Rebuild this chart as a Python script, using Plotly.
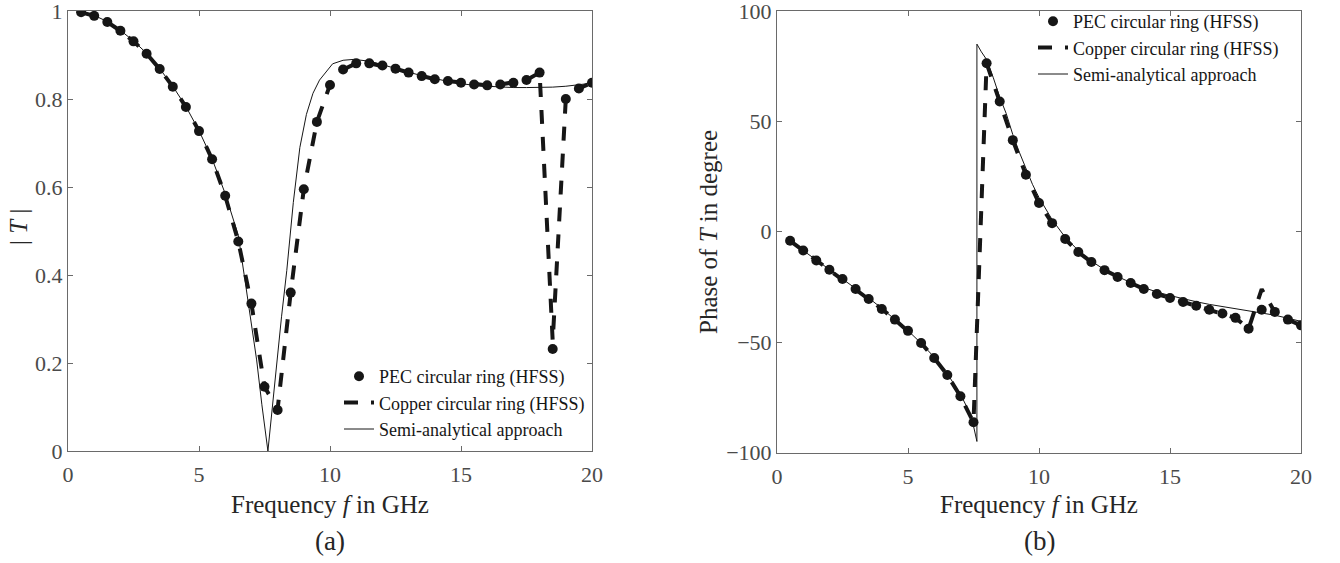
import plotly.graph_objects as go

W, H = 1340, 563

# ---------------- data ----------------
freq_hfss = [0.5, 1.0, 1.5, 2.0, 2.5, 3.0, 3.5, 4.0, 4.5, 5.0,
             5.5, 6.0, 6.5, 7.0, 7.5, 8.0, 8.5, 9.0, 9.5, 10.0,
             10.5, 11.0, 11.5, 12.0, 12.5, 13.0, 13.5, 14.0, 14.5, 15.0,
             15.5, 16.0, 16.5, 17.0, 17.5, 18.0, 18.5, 19.0, 19.5, 20.0]

mag_pec = [0.997, 0.989, 0.975, 0.955, 0.931, 0.903, 0.868, 0.828, 0.782, 0.727,
           0.663, 0.580, 0.476, 0.335, 0.146, 0.093, 0.360, 0.595, 0.748, 0.832,
           0.867, 0.881, 0.881, 0.876, 0.869, 0.860, 0.852, 0.845, 0.841, 0.837,
           0.833, 0.831, 0.833, 0.837, 0.843, 0.860, 0.232, 0.800, 0.824, 0.837]

mag_copper = [0.997, 0.989, 0.975, 0.955, 0.931, 0.903, 0.868, 0.828, 0.782, 0.727,
              0.663, 0.580, 0.476, 0.335, 0.146, 0.095, 0.360, 0.595, 0.748, 0.832,
              0.867, 0.881, 0.881, 0.876, 0.869, 0.860, 0.852, 0.845, 0.841, 0.837,
              0.833, 0.831, 0.833, 0.837, 0.843, 0.860, 0.250, 0.800, 0.824, 0.837]

phase_pec = [-4.1, -8.5, -13.0, -17.2, -21.4, -25.9, -30.5, -35.0, -39.8, -44.9,
             -50.4, -57.2, -64.9, -74.5, -86.3, 76.3, 59.0, 41.5, 25.8, 13.0,
             3.9, -3.3, -9.2, -13.7, -17.4, -20.5, -23.2, -25.9, -28.2, -30.0,
             -31.8, -33.5, -35.3, -37.0, -39.0, -43.9, -35.3, -36.3, -39.8, -42.4]

phase_copper = [-4.1, -8.5, -13.0, -17.2, -21.4, -25.9, -30.5, -35.0, -39.8, -44.9,
                -50.4, -57.2, -64.9, -74.5, -86.3, 76.3, 59.0, 41.5, 25.8, 13.0,
                3.9, -3.3, -9.2, -13.7, -17.4, -20.5, -23.2, -25.9, -28.2, -30.0,
                -31.8, -33.5, -35.3, -37.0, -39.0, -43.9, -26.0, -36.3, -39.8, -42.4]

freq_semi_mag = [0.4, 0.5, 1.0, 1.5, 2.0, 2.5, 3.0, 3.5, 4.0, 4.5,
                 5.0, 5.5, 6.0, 6.25, 6.5, 6.75, 7.0, 7.2, 7.4, 7.63,
                 7.8, 7.97, 8.15, 8.35, 8.6, 8.85, 9.1, 9.35, 9.6, 10.1,
                 10.5, 10.9, 11.5, 12.0, 12.5, 13.0, 13.5, 14.0, 14.5, 15.0,
                 15.5, 16.0, 16.5, 17.0, 17.5, 18.0, 18.5, 19.0, 19.5, 20.0]
mag_semi = [1.0, 0.998, 0.990, 0.976, 0.956, 0.932, 0.904, 0.869, 0.829, 0.783,
            0.728, 0.664, 0.585, 0.540, 0.490, 0.390, 0.290, 0.207, 0.105, 0.0,
            0.100, 0.207, 0.305, 0.410, 0.565, 0.690, 0.765, 0.813, 0.843, 0.880,
            0.888, 0.890, 0.886, 0.878, 0.869, 0.861, 0.853, 0.846, 0.840, 0.835,
            0.831, 0.829, 0.827, 0.826, 0.826, 0.826, 0.827, 0.829, 0.832, 0.836]

freq_semi_ph = [0.36, 0.5, 1.0, 1.5, 2.0, 2.5, 3.0, 3.5, 4.0, 4.5,
                5.0, 5.5, 6.0, 6.5, 7.0, 7.25, 7.5, 7.63, 7.63, 7.8,
                8.0, 8.25, 8.5, 8.75, 9.0, 9.25, 9.5, 9.75, 10.0, 10.5,
                11.0, 11.5, 12.0, 12.5, 13.0, 13.5, 14.0, 14.5, 15.0, 15.5,
                16.0, 16.5, 17.0, 17.5, 18.0, 18.5, 19.0, 19.5, 20.0]
phase_semi = [-3.0, -4.0, -8.5, -12.8, -16.8, -21.0, -25.5, -30.0, -34.7, -39.6,
              -44.8, -50.5, -56.8, -64.3, -73.5, -79.5, -88.0, -95.0, 85.0, 81.5,
              78.0, 70.0, 61.0, 53.5, 44.0, 36.0, 28.5, 21.5, 15.5, 5.5,
              -2.5, -8.5, -13.3, -17.2, -20.3, -23.0, -25.3, -27.3, -28.9, -30.4,
              -31.7, -32.9, -33.9, -34.8, -35.6, -36.6, -37.8, -39.2, -40.6]

x_ticks = [0, 5, 10, 15, 20]
mag_ticks = [0, 0.2, 0.4, 0.6, 0.8, 1]
mag_tick_text = ["0", "0.2", "0.4", "0.6", "0.8", "1"]
phase_ticks = [-100, -50, 0, 50, 100]

names = ["PEC circular ring (HFSS)", "Copper circular ring (HFSS)", "Semi-analytical approach"]

# ---------------- styles ----------------
FONT = "Liberation Serif"
AX_COL = "#6a6a6a"
TICK_COL = "#4a4a4a"
INK = "#161616"

fig = go.Figure()

def add_set(xa, ya, leg, f_h, y_pec, y_cu, f_s, y_s):
    fig.add_trace(go.Scatter(x=f_h, y=y_pec, mode="markers", name=names[0],
                             marker=dict(symbol="circle", size=10, color=INK),
                             xaxis=xa, yaxis=ya, legend=leg))
    fig.add_trace(go.Scatter(x=f_h, y=y_cu, mode="lines", name=names[1],
                             line=dict(color=INK, width=4, dash="14px,13px"),
                             xaxis=xa, yaxis=ya, legend=leg))
    fig.add_trace(go.Scatter(x=f_s, y=y_s, mode="lines", name=names[2],
                             line=dict(color=INK, width=1),
                             xaxis=xa, yaxis=ya, legend=leg))

add_set("x", "y", "legend", freq_hfss, mag_pec, mag_copper, freq_semi_mag, mag_semi)
add_set("x2", "y2", "legend2", freq_hfss, phase_pec, phase_copper, freq_semi_ph, phase_semi)

axis_common = dict(showline=True, linecolor=AX_COL, linewidth=1, mirror="ticks",
                   ticks="inside", ticklen=5, tickcolor=AX_COL, tickwidth=1,
                   showgrid=False, zeroline=False, ticklabeloverflow="allow",
                   automargin=False,
                   tickfont=dict(family=FONT, size=22, color=TICK_COL))

def px_x(p):
    return p / W

def px_y(p):
    return 1 - p / H

fig.update_layout(
    width=W, height=H,
    margin=dict(l=0, r=0, t=0, b=0),
    paper_bgcolor="white", plot_bgcolor="white",
    font=dict(family=FONT),
    xaxis=dict(domain=[px_x(68), px_x(592)], range=[0, 20], tickvals=x_ticks,
               anchor="y", ticklabelstandoff=4, **axis_common),
    yaxis=dict(domain=[px_y(451), px_y(11)], range=[0, 1], tickvals=mag_ticks,
               ticktext=mag_tick_text, anchor="x", ticklabelstandoff=0, **axis_common),
    xaxis2=dict(domain=[px_x(777), px_x(1301)], range=[0, 20], tickvals=x_ticks,
                anchor="y2", ticklabelstandoff=4, **axis_common),
    yaxis2=dict(domain=[px_y(452.5), px_y(11)], range=[-100, 100], tickvals=phase_ticks,
                anchor="x2", ticklabelstandoff=0, **axis_common),
    legend=dict(x=px_x(339), y=px_y(358), xanchor="left", yanchor="top",
                bgcolor="rgba(0,0,0,0)", borderwidth=0, tracegroupgap=0,
                font=dict(family=FONT, size=18, color=INK)),
    legend2=dict(x=px_x(1033), y=px_y(3), xanchor="left", yanchor="top",
                 bgcolor="rgba(0,0,0,0)", borderwidth=0, tracegroupgap=0,
                 font=dict(family=FONT, size=18, color=INK)),
    showlegend=True,
)

def ann(text, x, y, size, angle=0):
    fig.add_annotation(text=text, x=px_x(x), y=px_y(y), xref="paper", yref="paper",
                       showarrow=False, xanchor="center", yanchor="middle",
                       textangle=angle, font=dict(family=FONT, size=size, color="#262626"))

ann("| <i>T</i> |", 19, 227, 25, -90)
ann("Frequency <i>f</i> in GHz", 330, 504, 25)
ann("(a)", 330, 541, 27)
ann("Phase of <i>T</i> in degree", 708, 232, 25, -90)
ann("Frequency <i>f</i> in GHz", 1039, 504, 25)
ann("(b)", 1039, 541, 27)

fig.write_html("out.html")
